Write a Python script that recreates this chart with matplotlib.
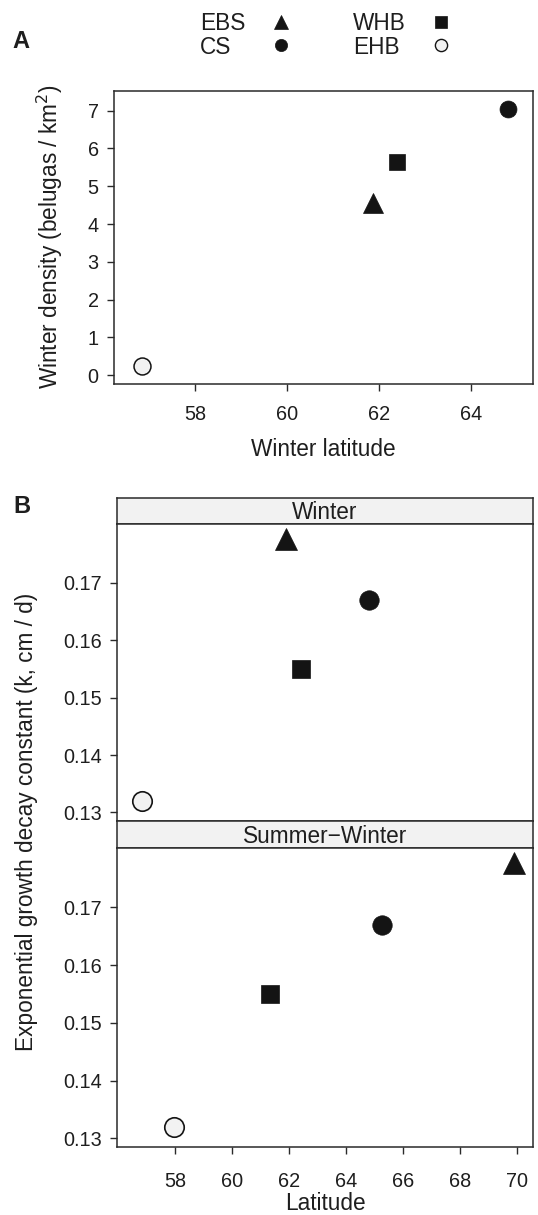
import matplotlib
matplotlib.use("Agg")
import matplotlib.pyplot as plt

plt.rcParams['font.family'] = ['Liberation Sans', 'DejaVu Sans']

# donnees
species = ["EBS", "CS", "WHB", "EHB"]
markers = ["^", "o", "s", "o"]
faces = ["#141414", "#141414", "#141414", "#f2f2f2"]
winter_lat = [61.87, 64.8, 62.4, 56.85]
winter_density = [4.55, 7.05, 5.64, 0.24]
k_const = [0.1776, 0.167, 0.155, 0.132]
sw_lat = [69.9, 65.27, 61.31, 57.96]
facets = ["Winter", "Summer\u2212Winter"]

xticks_a = [58, 60, 62, 64]
yticks_a = [0, 1, 2, 3, 4, 5, 6, 7]
xticks_b = [58, 60, 62, 64, 66, 68, 70]
yticks_b = [0.13, 0.14, 0.15, 0.16, 0.17]

W, H = 538, 1215
fig = plt.figure(figsize=(W / 100, H / 100), dpi=100)
txt = "#1e1e1e"
edge = "#2a2a2a"

def box(l, t, r, b):
    return [l / W, 1 - b / H, (r - l) / W, (b - t) / H]

def style(ax):
    for s in ax.spines.values():
        s.set_linewidth(1.1)
        s.set_color(edge)
    ax.tick_params(direction="out", length=5, width=1.0, color=edge,
                   labelsize=14.3, labelcolor=txt)

def sizes(m, big):
    # taille des symboles (points)
    if m == "^":
        return 15.5 if big else 14
    if m == "s":
        return 13 if big else 11.5
    return 14 if big else 12.2

# Panel A
ax = fig.add_axes(box(114, 91, 533, 384))
for i in range(len(species)):
    ax.plot(winter_lat[i], winter_density[i], marker=markers[i], ls="none",
            ms=sizes(markers[i], False), mfc=faces[i], mec="#141414",
            mew=1.1 if faces[i] != "#141414" else 0.5)
ax.set_xlim(56.24, 65.35)
ax.set_ylim(-0.23, 7.52)
ax.set_xticks(xticks_a)
ax.set_yticks(yticks_a)
style(ax)
ax.tick_params(axis="x", pad=10)
ax.tick_params(axis="y", pad=6)
fig.text(323 / W, 1 - 450 / H, "Winter latitude", ha="center", va="center",
         fontsize=16.3, color=txt)
fig.text(50 / W, 1 - 237 / H, "Winter density (belugas / km$^2$)", rotation=90,
         ha="center", va="center", fontsize=16.3, color=txt)
fig.text(21 / W, 1 - 41 / H, "A", ha="center", va="center", fontsize=17,
         fontweight="bold", color=txt)
fig.text(22 / W, 1 - 506 / H, "B", ha="center", va="center", fontsize=17,
         fontweight="bold", color=txt)

# legende
lax = fig.add_axes([0, 1 - 62 / H, 1, 62 / H])
lax.set_xlim(0, W)
lax.set_ylim(62, 0)
lax.axis("off")
lx = [200, 200, 353, 353]
ly = [24, 47, 24, 47]
mx = [281, 281, 441, 441]
for i in range(len(species)):
    lax.text(lx[i], ly[i], species[i], ha="left", va="center", fontsize=16.3,
             color=txt)
    lax.plot(mx[i], ly[i] - 2, marker=markers[i], ls="none",
             ms=sizes(markers[i], False) * 0.72, mfc=faces[i], mec="#141414",
             mew=1.0 if faces[i] != "#141414" else 0.5)

# Panel B
lat_sets = [winter_lat, sw_lat]
panels = [(524.3, 821), (848.3, 1147)]
strips = [(498.3, 524.3), (821, 848.3)]
for j in range(2):
    st = fig.add_axes(box(117, strips[j][0], 533, strips[j][1]))
    st.set_facecolor("#f2f2f2")
    st.set_xticks([])
    st.set_yticks([])
    for s in st.spines.values():
        s.set_linewidth(1.1)
        s.set_color(edge)
    st.text(0.5, 0.45, facets[j], transform=st.transAxes, ha="center",
            va="center", fontsize=16.3, color=txt)

    bx = fig.add_axes(box(117, panels[j][0], 533, panels[j][1]))
    for i in range(len(species)):
        bx.plot(lat_sets[j][i], k_const[i], marker=markers[i], ls="none",
                ms=sizes(markers[i], True), mfc=faces[i], mec="#141414",
                mew=1.2 if faces[i] != "#141414" else 0.5)
    bx.set_xlim(55.96, 70.55)
    bx.set_ylim(0.1285, 0.1802)
    bx.set_yticks(yticks_b)
    bx.set_yticklabels([f"{v:.2f}" for v in yticks_b])
    style(bx)
    bx.tick_params(axis="y", pad=6)
    if j == 0:
        bx.set_xticks([])
    else:
        bx.set_xticks(xticks_b)
        bx.tick_params(axis="x", pad=13)

fig.text(325 / W, 1 - 1210 / H, "Latitude", ha="center", va="baseline",
         fontsize=16.3, color=txt)
fig.text(27 / W, 1 - 822 / H, "Exponential growth decay constant (k, cm / d)",
         rotation=90, ha="center", va="center", fontsize=16.3, color=txt)

fig.savefig("out.png", dpi=100)
